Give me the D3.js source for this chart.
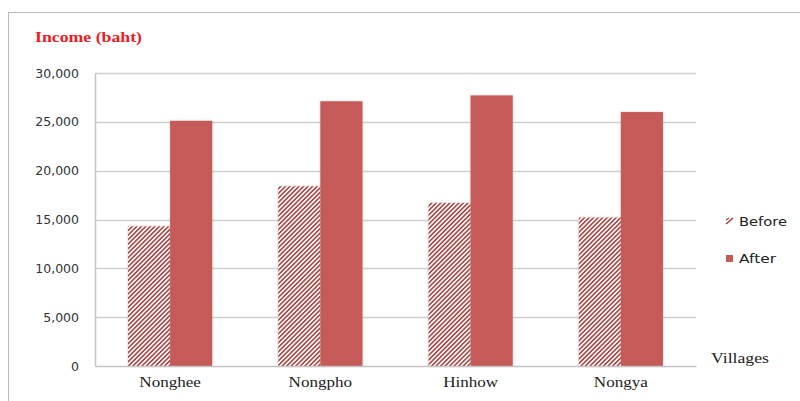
<!DOCTYPE html>
<html><head><meta charset="utf-8">
<script src="https://cdn.jsdelivr.net/npm/d3@7/dist/d3.min.js"></script>
<style>body{margin:0;background:#fff}svg{display:block}</style>
</head><body>
<svg id="c" width="800" height="401"></svg>
<script>
const categories = ["Nonghee", "Nongpho", "Hinhow", "Nongya"];
const seriesNames = ["Before", "After"];
const before = [14300, 18400, 16700, 15200];
const after = [25100, 27100, 27700, 26000];
const yTicks = [0, 5000, 10000, 15000, 20000, 25000, 30000];

const svg = d3.select("#c");
const m = {l: 95, r: 696, t: 73, b: 366};

const defs = svg.append("defs");
const P = 3.2;
const pat = defs.append("pattern").attr("id", "hatch").attr("patternUnits", "userSpaceOnUse")
  .attr("width", P).attr("height", P).attr("patternTransform", "rotate(45)");
pat.append("rect").attr("width", P).attr("height", P).attr("fill", "#fff");
pat.append("rect").attr("x", 0).attr("y", 0).attr("width", 1.55).attr("height", P).attr("fill", "#ad403e");
const f = defs.append("filter").attr("id", "sh").attr("x", "-20%").attr("y", "-5%").attr("width", "140%").attr("height", "110%");
f.append("feDropShadow").attr("dx", 0).attr("dy", 0).attr("stdDeviation", 0.8).attr("flood-color", "#888").attr("flood-opacity", 0.5);

// outer frame
svg.append("line").attr("x1", 8).attr("x2", 800).attr("y1", 12.5).attr("y2", 12.5).attr("stroke", "#b8b8b8").attr("stroke-width", 1);
svg.append("line").attr("x1", 8.5).attr("x2", 8.5).attr("y1", 12).attr("y2", 401).attr("stroke", "#b8b8b8").attr("stroke-width", 1);

const x = d3.scaleBand().domain(categories).range([m.l, m.r]).paddingInner(0.44).paddingOuter(0.22);
const x1 = d3.scaleBand().domain(seriesNames).range([0, x.bandwidth()]).padding(0);
const y = d3.scaleLinear().domain([0, 30000]).range([m.b, m.t]);

// grid
svg.append("g").selectAll("line").data(yTicks.filter(d => d > 0)).join("line")
  .attr("x1", m.l).attr("x2", m.r).attr("y1", d => Math.round(y(d)) + 0.5).attr("y2", d => Math.round(y(d)) + 0.5)
  .attr("stroke", "#cfcfcf").attr("stroke-width", 1.5);

// y axis
const ya = svg.append("g").attr("transform", `translate(${m.l},0)`)
  .call(d3.axisLeft(y).tickValues(yTicks).tickSize(0).tickPadding(16).tickFormat(d3.format(",")));
ya.select(".domain").attr("stroke", "#c4c4c4").attr("stroke-width", 1.5);
ya.selectAll("text").attr("font-family", "DejaVu Sans").attr("font-size", 12.5).attr("fill", "#333");

// bars
const g = svg.append("g");
categories.forEach((c, i) => {
  g.append("rect").attr("x", x(c) + x1("Before")).attr("width", x1.bandwidth())
    .attr("y", y(before[i])).attr("height", y(0) - y(before[i]))
    .attr("fill", "url(#hatch)").attr("filter", "url(#sh)");
  g.append("rect").attr("x", x(c) + x1("After")).attr("width", x1.bandwidth())
    .attr("y", y(after[i])).attr("height", y(0) - y(after[i]))
    .attr("fill", "#c55a58").attr("filter", "url(#sh)");
});

// x axis
const xa = svg.append("g").attr("transform", `translate(0,${m.b})`)
  .call(d3.axisBottom(x).tickSize(0).tickPadding(11));
xa.select(".domain").attr("stroke", "#c4c4c4").attr("stroke-width", 1.5);
xa.selectAll("text").attr("font-family", "Liberation Serif").attr("font-size", 14).attr("fill", "#222")
  .attr("transform", "scale(1.22,1)");

// title
svg.append("text").attr("x", 35).attr("y", 42).text("Income (baht)")
  .attr("font-family", "Liberation Serif").attr("font-weight", "bold").attr("font-size", 14.5).attr("fill", "#ee1c25")
  .attr("textLength", 107).attr("lengthAdjust", "spacingAndGlyphs");

// Villages label
svg.append("text").attr("x", 711).attr("y", 363).text("Villages")
  .attr("font-family", "Liberation Serif").attr("font-size", 14).attr("fill", "#222")
  .attr("textLength", 58).attr("lengthAdjust", "spacingAndGlyphs");

// legend
const lg = svg.append("g");
const ly = [221, 258];
const lw = [48, 37];
seriesNames.forEach((s, i) => {
  if (s === "Before") {
    lg.append("line").attr("x1", 726).attr("y1", ly[i] + 3).attr("x2", 733).attr("y2", ly[i] - 3)
      .attr("stroke", "#a83c3a").attr("stroke-width", 1.6);
    lg.append("line").attr("x1", 726).attr("y1", ly[i] - 1).attr("x2", 729).attr("y2", ly[i] - 3)
      .attr("stroke", "#a83c3a").attr("stroke-width", 1.2);
  } else {
    lg.append("rect").attr("x", 726).attr("y", ly[i] - 3).attr("width", 7).attr("height", 7).attr("fill", "#c55a58");
  }
  lg.append("text").attr("x", 739).attr("y", ly[i] + 4.5).text(s)
    .attr("font-family", "DejaVu Sans").attr("font-size", 13).attr("fill", "#222")
    .attr("textLength", lw[i]).attr("lengthAdjust", "spacingAndGlyphs");
});
</script>
</body></html>
